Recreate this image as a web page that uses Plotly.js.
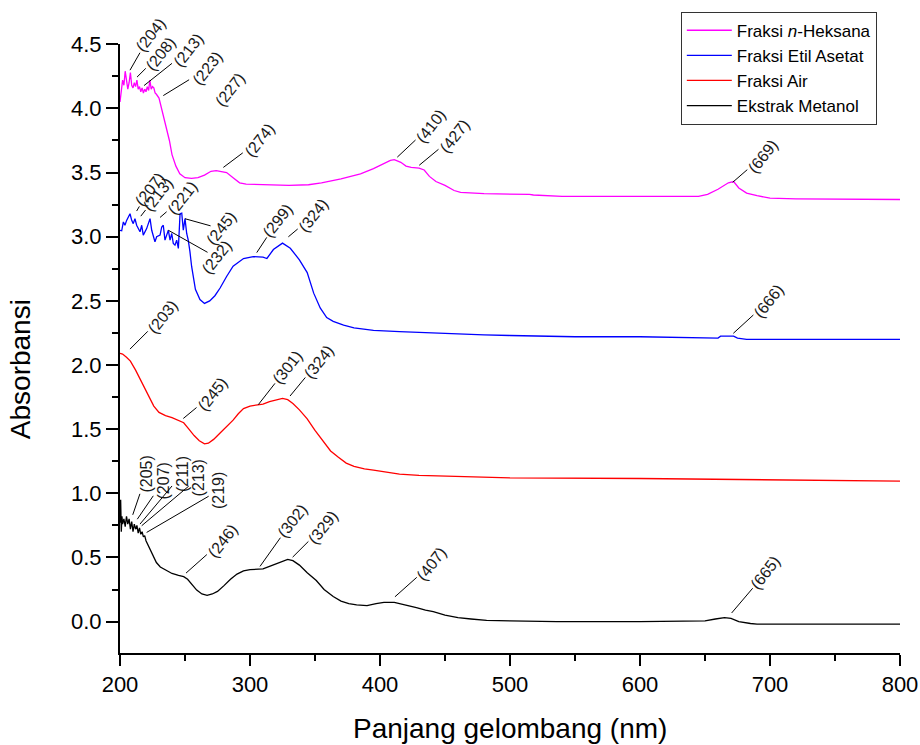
<!DOCTYPE html>
<html><head><meta charset="utf-8">
<script src="https://cdn.plot.ly/plotly-3.0.1.min.js"></script>
<style>html,body{margin:0;padding:0;background:#fff}#chart{width:920px;height:745px}</style>
</head><body><div id="chart"></div>
<script>
// ---------- DATA ----------
const seriesNames = ['Fraksi <i>n</i>-Heksana', 'Fraksi Etil Asetat', 'Fraksi Air', 'Ekstrak Metanol'];
const xTitle = 'Panjang gelombang (nm)';
const yTitle = 'Absorbansi';

const hexX = [200,201,202,203,204,205,206,207,208,209,210,211,212,213,214,215,216,217,218,219,220,221,222,223,224,225,226,227,228,230,232,234,236,238,240,243,246,250,255,260,265,270,274,278,282,287,292,297,310,330,345,355,370,385,395,403,408,411,416,420,424,430,434,438,443,450,457,462,480,515,518,540,600,605,615,645,652,660,668,672,676,682,690,700,720,800];
const hexY = [4.05,4.12,4.22,4.18,4.29,4.22,4.15,4.20,4.28,4.18,4.16,4.20,4.17,4.22,4.15,4.17,4.13,4.16,4.12,4.15,4.13,4.17,4.14,4.22,4.15,4.17,4.16,4.12,4.11,4.08,4.00,3.92,3.85,3.75,3.64,3.55,3.49,3.46,3.455,3.46,3.48,3.51,3.515,3.51,3.50,3.46,3.42,3.41,3.405,3.40,3.405,3.42,3.45,3.49,3.53,3.57,3.595,3.60,3.58,3.55,3.54,3.535,3.52,3.47,3.43,3.40,3.36,3.345,3.335,3.33,3.325,3.315,3.315,3.32,3.315,3.315,3.33,3.37,3.42,3.43,3.38,3.34,3.32,3.30,3.295,3.29];

const etX = [200,201.3,202.6,203.8,205.1,207.7,209,210.2,211.5,212.8,215.4,216.7,217.9,220.5,223.1,224.4,226.9,228.2,230.8,232.1,233.3,234.6,235.9,237.2,238.5,239.8,241,242.3,243.6,244.9,246.2,247.5,248.7,250,251.3,252.5,253.8,255.1,258,261.5,265,269,273,277,282,287,295,302.5,310,313,318,325,331,338,344,349,354,359,364,372,380,395,415,460,480,500,550,600,650,660,662,672,675,682,800];
const etY = [3.05,3.046,3.115,3.089,3.127,3.179,3.127,3.102,3.141,3.089,3.038,3.089,3.012,3.063,3.141,3.05,2.96,3.0,3.012,3.076,3.089,2.973,3.012,3.05,2.973,3.025,2.947,2.934,2.973,2.909,3.179,3.184,3.05,3.141,3.025,2.973,2.883,2.768,2.59,2.51,2.48,2.50,2.54,2.60,2.69,2.77,2.83,2.845,2.84,2.83,2.90,2.95,2.91,2.82,2.72,2.56,2.445,2.37,2.34,2.31,2.29,2.27,2.26,2.24,2.235,2.23,2.22,2.22,2.215,2.21,2.225,2.225,2.21,2.20,2.20];

const airX = [200,202,205,208,212,215,218,222,226,230,235,240,245,249,253,257,261,265,268,272,277,282,287,291,295,300,305,310,315,320,325,329,333,338,344,350,356,362,368,374,380,388,395,405,415,430,460,500,600,700,800];
const airY = [2.09,2.085,2.06,2.03,1.96,1.90,1.85,1.76,1.68,1.63,1.605,1.59,1.57,1.55,1.50,1.45,1.41,1.385,1.39,1.42,1.47,1.52,1.57,1.62,1.66,1.68,1.685,1.695,1.715,1.73,1.74,1.73,1.70,1.65,1.58,1.49,1.41,1.33,1.28,1.235,1.21,1.19,1.18,1.165,1.15,1.14,1.13,1.12,1.115,1.105,1.095];

const metX = [200,200.5,201,201.5,202,203,204,205,206,207,208,209,210,211,212,213,214,215,216,217,218,219,220,222,224,226,228,231,235,240,245,249,252,255,259,263,267,271,275,280,285,290,295,300,305,310,315,320,325,329,333,338,344,351,357,364,370,376,382,390,397,403,411,420,428,435,441,450,460,470,482,500,536,600,645,650,658,665,670,676,685,690,800];
const metY = [0.77,0.95,0.70,0.82,0.76,0.80,0.74,0.82,0.76,0.80,0.72,0.78,0.70,0.76,0.72,0.75,0.69,0.73,0.68,0.70,0.66,0.67,0.63,0.59,0.55,0.50,0.46,0.425,0.40,0.375,0.36,0.35,0.33,0.29,0.245,0.215,0.205,0.215,0.235,0.28,0.33,0.37,0.395,0.405,0.405,0.41,0.43,0.45,0.475,0.485,0.475,0.44,0.38,0.32,0.25,0.195,0.16,0.14,0.13,0.125,0.14,0.15,0.15,0.125,0.108,0.09,0.077,0.05,0.03,0.02,0.01,0.005,0.0,0.0,0.0,0.005,0.02,0.03,0.025,0.0,-0.015,-0.02,-0.02];

// peak labels (nm) and the data point each leader line starts from
const hexPeakNm = [204,208,213,223,227,274,410,427,669];
const hexPeakX  = [207.7,213.1,218.5,233.3,284.6,279.5,413.3,430.2,671.3];
const hexPeakY  = [4.298,4.244,4.178,4.10,4.15,3.54,3.62,3.557,3.424];

const etPeakNm = [207,213,221,245,232,299,324,666];
const etPeakX  = [212.8,216,230.8,250,237.2,305.2,329.5,671.8];
const etPeakY  = [3.20,3.16,3.15,3.14,3.05,2.876,2.999,2.247];

const airPeakNm = [203,245,301,324];
const airPeakX  = [207.7,248.7,306.4,330.8];
const airPeakY  = [2.124,1.583,1.691,1.758];

const metPeakNm = [205,207,211,213,219,246,302,329,407,665];
const metPeakX  = [209.8,213.3,215.4,216.7,220.5,250.8,307.7,332.8,411.5,670.5];
const metPeakY  = [0.832,0.798,0.76,0.747,0.695,0.378,0.43,0.502,0.193,0.067];

// ---------- STYLE / LAYOUT ----------
const colors = ['#ff00ff', '#0000ff', '#ff0000', '#000000'];
const FONT = 'Liberation Sans, Arial, sans-serif';

// label offsets (px) from anchor to label centre; null = no leader line
const hexOff = [[20,-35],[23,-23],[44,-35],[44,-27],null,[36,-27],[33,-31],[35,-29],[30,-26]];
const etOff  = [[13,-22],[17,-22],[22,-19],[36,10],[48,27],[21,-32],[25,-21],[35,-32]];
const airOff = [[32,-32],[29,-24],[29,-37],[28,-34]];
const metOff = [[14,-41],[26,-38],[42,-50],[57,-48],[72,-42],[36,-32],[32,-45],[30,-30],[37,-33],[34,-40]];
const metAngles = [-90,-90,-90,-90,-90,-52,-52,-52,-52,-52];

const annotations = [];
function addLabels(nm, xs, ys, offs, angles) {
  for (let i = 0; i < nm.length; i++) {
    const o = offs[i];
    const a = {
      x: xs[i], y: ys[i], xref: 'x', yref: 'y',
      text: '(' + nm[i] + ')',
      textangle: Array.isArray(angles) ? angles[i] : angles,
      font: {family: FONT, size: 16, color: '#1a1a1a'},
      showarrow: !!o,
      arrowhead: 0, arrowwidth: 1, arrowcolor: '#000',
      standoff: 0, startstandoff: 0
    };
    if (o) { a.ax = o[0]; a.ay = o[1]; }
    annotations.push(a);
  }
}
addLabels(hexPeakNm, hexPeakX, hexPeakY, hexOff, -52);
addLabels(etPeakNm, etPeakX, etPeakY, etOff, -52);
addLabels(airPeakNm, airPeakX, airPeakY, airOff, -52);
addLabels(metPeakNm, metPeakX, metPeakY, metOff, metAngles);

// axis titles placed as paper-anchored text
annotations.push({
  text: xTitle, xref: 'paper', yref: 'paper', x: 0.5, y: -0.1238,
  xanchor: 'center', yanchor: 'middle', showarrow: false,
  font: {family: FONT, size: 28, color: '#000'}
});
annotations.push({
  text: yTitle, xref: 'paper', yref: 'paper', x: -0.128, y: 0.4663,
  xanchor: 'center', yanchor: 'middle', showarrow: false, textangle: -90,
  font: {family: FONT, size: 28, color: '#000'}
});

const xs = [hexX, etX, airX, metX];
const ys = [hexY, etY, airY, metY];
const traces = seriesNames.map((n, i) => ({
  x: xs[i], y: ys[i], name: n, type: 'scatter', mode: 'lines',
  line: {color: colors[i], width: 1.3}, hoverinfo: 'skip'
}));

const layout = {
  width: 920, height: 745,
  margin: {l: 120, r: 20, t: 39, b: 92},
  paper_bgcolor: '#fff', plot_bgcolor: '#fff',
  font: {family: FONT, color: '#000'},
  showlegend: true,
  legend: {
    x: 0.719, y: 1.053, xanchor: 'left', yanchor: 'top',
    bgcolor: '#fff', bordercolor: '#333', borderwidth: 1,
    font: {family: FONT, size: 17, color: '#000'},
    itemwidth: 45, traceorder: 'normal'
  },
  xaxis: {
    range: [200, 800], dtick: 100, tick0: 0,
    showgrid: false, zeroline: false,
    showline: true, linewidth: 2, linecolor: '#000',
    ticks: 'outside', ticklen: 11, tickwidth: 2, tickcolor: '#000',
    minor: {dtick: 50, ticks: 'outside', ticklen: 6, tickwidth: 2, tickcolor: '#000'},
    tickfont: {family: FONT, size: 22, color: '#000'}
  },
  yaxis: {
    range: [-0.245, 4.502], dtick: 0.5, tick0: 0, tickformat: '.1f',
    showgrid: false, zeroline: false,
    showline: true, linewidth: 2, linecolor: '#000',
    ticks: 'outside', ticklen: 12, tickwidth: 2, tickcolor: '#000',
    minor: {dtick: 0.25, ticks: 'outside', ticklen: 6, tickwidth: 2, tickcolor: '#000'},
    tickfont: {family: FONT, size: 22, color: '#000'}
  },
  annotations: annotations
};

Plotly.newPlot('chart', traces, layout, {staticPlot: true, displayModeBar: false});
</script></body></html>
